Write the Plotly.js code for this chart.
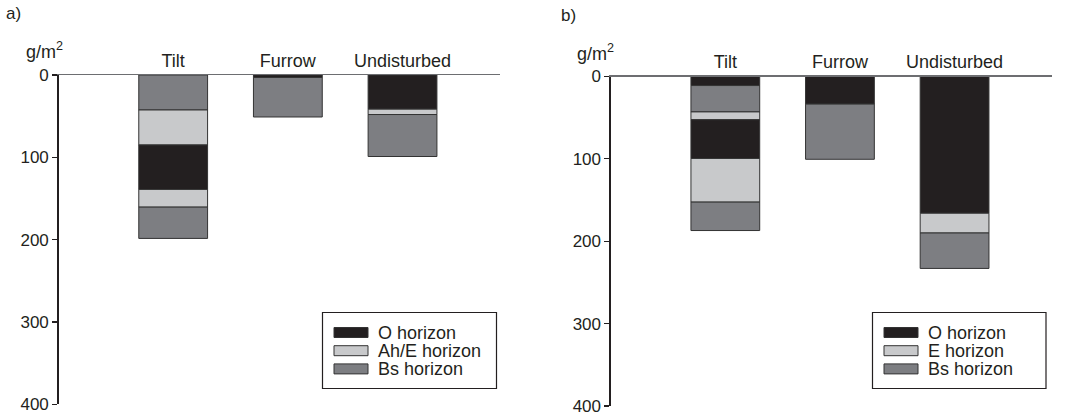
<!DOCTYPE html>
<html>
<head>
<meta charset="utf-8">
<script src="https://cdn.plot.ly/plotly-3.0.1.min.js"></script>
<style>
html,body{margin:0;padding:0;background:#fff;}
#chart{width:1066px;height:416px;}
</style>
</head>
<body>
<div id="chart"></div>
<script>
// ---- data (g/m2), segments listed from surface downward ----
const categories = ['Tilt', 'Furrow', 'Undisturbed'];

// Panel a
const aTiltHorizons = ['Bs', 'AhE', 'O', 'AhE', 'Bs'];
const aTiltValues = [42.5, 42.5, 54, 21.5, 38];
const aFurrowHorizons = ['O', 'Bs'];
const aFurrowValues = [3, 48];
const aUndistHorizons = ['O', 'AhE', 'Bs'];
const aUndistValues = [41.5, 6.5, 51];

// Panel b
const bTiltHorizons = ['O', 'Bs', 'AhE', 'O', 'AhE', 'Bs'];
const bTiltValues = [11, 32, 9.5, 47, 53, 34.5];
const bFurrowHorizons = ['O', 'Bs'];
const bFurrowValues = [33.5, 67];
const bUndistHorizons = ['O', 'AhE', 'Bs'];
const bUndistValues = [166, 24, 43];

const legendLabelsA = ['O horizon', 'Ah/E horizon', 'Bs horizon'];
const legendLabelsB = ['O horizon', 'E horizon', 'Bs horizon'];
const legendKeys = ['O', 'AhE', 'Bs'];
const yTicks = [0, 100, 200, 300, 400];

// ---- styling ----
const colors = {O: '#231f20', AhE: '#c8c9cb', Bs: '#7d7e82'};
const ink = '#231f20';
const FONT = 'Liberation Sans, Arial, sans-serif';

function segmentTraces(cat, horizons, values, xa, ya) {
  const traces = [];
  let cum = 0;
  horizons.forEach((h, i) => {
    traces.push({
      type: 'bar', x: [cat], y: [values[i]], base: [cum],
      xaxis: xa, yaxis: ya, width: 0.6, showlegend: false,
      marker: {color: colors[h], line: {color: '#333333', width: 1}},
      hoverinfo: 'skip'
    });
    cum += values[i];
  });
  return traces;
}

const data = [].concat(
  segmentTraces(categories[0], aTiltHorizons, aTiltValues, 'x', 'y'),
  segmentTraces(categories[1], aFurrowHorizons, aFurrowValues, 'x', 'y'),
  segmentTraces(categories[2], aUndistHorizons, aUndistValues, 'x', 'y'),
  segmentTraces(categories[0], bTiltHorizons, bTiltValues, 'x2', 'y2'),
  segmentTraces(categories[1], bFurrowHorizons, bFurrowValues, 'x2', 'y2'),
  segmentTraces(categories[2], bUndistHorizons, bUndistValues, 'x2', 'y2')
);

const W = 1066, H = 416;
const px = v => v / W;
const py = v => 1 - v / H;

function xaxisDef(domain, anchor) {
  return {
    domain: domain, anchor: anchor, side: 'top', type: 'category',
    categoryorder: 'array', categoryarray: categories,
    range: [-1, 2.85], showline: true, linecolor: '#6d6e71', linewidth: 1.3,
    ticks: '', showgrid: false, zeroline: false, fixedrange: true,
    ticklabeloverflow: 'allow',
    tickfont: {family: FONT, size: 18, color: ink}
  };
}
function yaxisDef(domain, anchor) {
  return {
    domain: domain, anchor: anchor, range: [400, 0],
    tickvals: yTicks, ticktext: yTicks.map(String),
    showline: true, linecolor: ink, linewidth: 1.3,
    ticks: 'outside', ticklen: 5, tickcolor: ink, tickwidth: 1.2,
    showgrid: false, zeroline: false, fixedrange: true,
    ticklabeloverflow: 'allow',
    tickfont: {family: FONT, size: 17, color: ink}
  };
}

const shapes = [];
const annotations = [];

function addLegend(x0, x1, y0, y1, labels) {
  shapes.push({type: 'rect', xref: 'paper', yref: 'paper',
    x0: px(x0), x1: px(x1), y0: py(y1), y1: py(y0),
    line: {color: ink, width: 1.2}, fillcolor: '#ffffff'});
  labels.forEach((lab, i) => {
    const yc = y0 + 20 + i * 18.2;
    shapes.push({type: 'rect', xref: 'paper', yref: 'paper',
      x0: px(x0 + 11.5), x1: px(x0 + 45.5), y0: py(yc + 5), y1: py(yc - 5),
      line: {color: '#333333', width: 1}, fillcolor: colors[legendKeys[i]]});
    annotations.push({xref: 'paper', yref: 'paper', x: px(x0 + 53), y: py(yc),
      xanchor: 'left', yanchor: 'middle', showarrow: false, text: lab,
      font: {family: FONT, size: 18, color: ink}});
  });
}
addLegend(322.5, 496.5, 312.5, 388.5, legendLabelsA);
addLegend(872.5, 1046, 312.5, 388.5, legendLabelsB);

annotations.push(
  {xref: 'paper', yref: 'paper', x: px(4), y: py(13), xanchor: 'left', yanchor: 'middle',
   showarrow: false, text: 'a)', font: {family: FONT, size: 17, color: ink}},
  {xref: 'paper', yref: 'paper', x: px(559), y: py(16), xanchor: 'left', yanchor: 'middle',
   showarrow: false, text: 'b)', font: {family: FONT, size: 17, color: ink}},
  {xref: 'paper', yref: 'paper', x: px(24), y: py(50), xanchor: 'left', yanchor: 'middle',
   showarrow: false, text: 'g/m<sup>2</sup>', font: {family: FONT, size: 18, color: ink}},
  {xref: 'paper', yref: 'paper', x: px(575), y: py(52), xanchor: 'left', yanchor: 'middle',
   showarrow: false, text: 'g/m<sup>2</sup>', font: {family: FONT, size: 18, color: ink}}
);

const layout = {
  width: W, height: H,
  margin: {l: 0, r: 0, t: 0, b: 0},
  paper_bgcolor: '#ffffff', plot_bgcolor: 'rgba(0,0,0,0)',
  barmode: 'overlay', bargap: 0,
  showlegend: false,
  xaxis: xaxisDef([px(58.5), px(500)], 'y'),
  yaxis: yaxisDef([py(404.3), py(75)], 'x'),
  xaxis2: xaxisDef([px(610.7), px(1052)], 'y2'),
  yaxis2: yaxisDef([py(406), py(76.5)], 'x2'),
  shapes: shapes,
  annotations: annotations,
  font: {family: FONT, color: ink}
};

Plotly.newPlot('chart', data, layout, {staticPlot: true, displayModeBar: false});
</script>
</body>
</html>
